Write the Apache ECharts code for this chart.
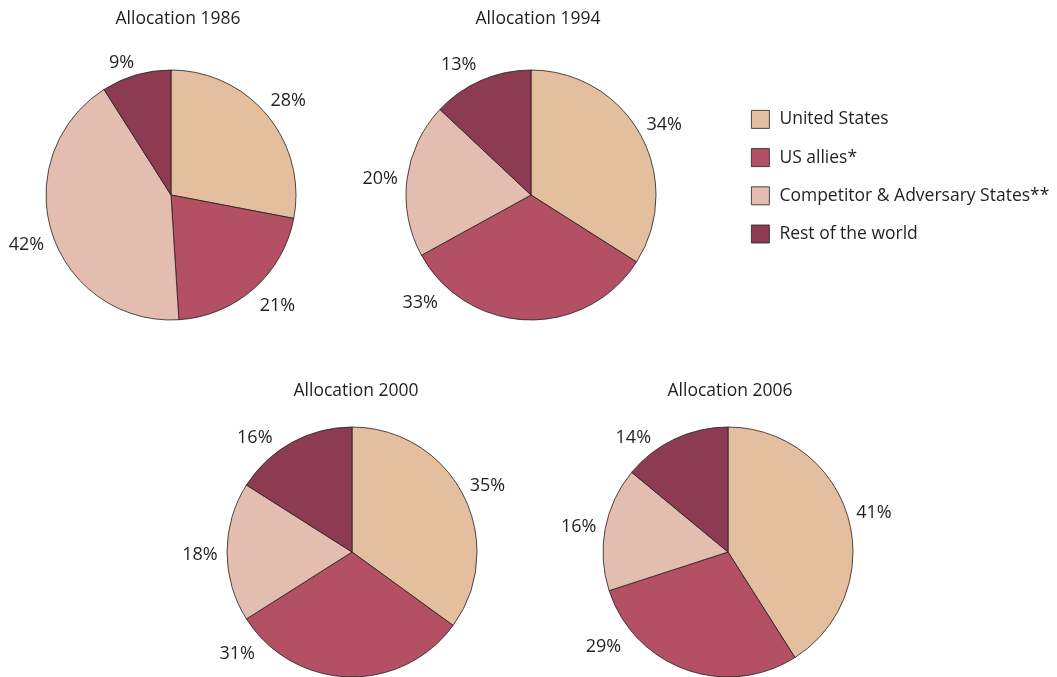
<!DOCTYPE html>
<html>
<head>
<meta charset="utf-8">
<script src="https://cdn.jsdelivr.net/npm/echarts@6/dist/echarts.min.js"></script>
<style>
  html, body { margin: 0; padding: 0; background: #fff; }
  #main { width: 1057px; height: 677px; }
</style>
</head>
<body>
<div id="main"></div>
<script>
// data
var categories = ['United States', 'US allies*', 'Competitor & Adversary States**', 'Rest of the world'];
var years = ['1986', '1994', '2000', '2006'];
var share1986 = [28, 21, 42, 9];
var share1994 = [34, 33, 20, 13];
var share2000 = [35, 31, 18, 16];
var share2006 = [41, 29, 16, 14];

var shares = [share1986, share1994, share2000, share2006];
var colors = ['#e3be9f', '#b35063', '#e3bdb0', '#8c3b52'];
var textColor = '#231f20';
var font = '"Open Sans", "Liberation Sans", sans-serif';

// layout of the 4 pies
var centers = [[171, 195], [531, 195], [352, 552], [728, 552]];
var titlePos = [[178, 10], [538, 10], [356, 382], [730, 382]];
var R = 125;
// labels that were moved away from the slice middle in the original
var nudges = [
  { 1: [6, -6], 3: [-7, 11] },
  { 1: [-106, -47], 3: [-12, 6] },
  { 1: [-110, -53], 3: [-24, 16] },
  { 1: [-73, -51], 3: [-30, 20] }
];

var myChart = echarts.init(document.getElementById('main'));

var title = years.map(function (y, i) {
  return {
    text: 'Allocation ' + y,
    left: titlePos[i][0],
    top: titlePos[i][1],
    padding: 0,
    textAlign: 'center',
    textStyle: { fontFamily: font, fontSize: 17.5, fontWeight: 'normal', color: textColor }
  };
});

var series = [];
shares.forEach(function (vals, i) {
  // the pie itself
  series.push({
    type: 'pie',
    name: years[i],
    center: centers[i],
    radius: R,
    startAngle: 90,
    clockwise: true,
    silent: true,
    label: { show: false },
    labelLine: { show: false },
    itemStyle: { borderColor: textColor, borderWidth: 0.8 },
    data: vals.map(function (v, k) {
      return { name: categories[k], value: v, itemStyle: { color: colors[k] } };
    })
  });
});
shares.forEach(function (vals, i) {
  // invisible ring, only used to place the % labels round the pie
  series.push({
    type: 'pie',
    name: years[i] + ' labels',
    center: centers[i],
    radius: [R + 12, R + 36],
    startAngle: 90,
    clockwise: true,
    silent: true,
    z: 1,
    legendHoverLink: false,
    itemStyle: { color: 'rgba(0,0,0,0)', borderWidth: 0 },
    label: {
      show: true,
      position: 'inside',
      formatter: '{c}%',
      fontFamily: font,
      fontSize: 18,
      color: textColor,
      offset: [0, 3]
    },
    labelLine: { show: false },
    data: vals.map(function (v, k) {
      var d = { name: categories[k], value: v };
      var n = nudges[i][k];
      if (n) d.label = { offset: [n[0], n[1] + 3] };
      return d;
    })
  });
});

var option = {
  animation: false,
  title: title,
  color: colors,
  legend: {
    orient: 'vertical',
    left: 746,
    top: 105,
    itemWidth: 18,
    itemHeight: 18,
    itemGap: 19.4,
    icon: 'rect',
    selectedMode: false,
    data: categories,
    itemStyle: { borderColor: textColor, borderWidth: 0.8 },
    textStyle: { fontFamily: font, fontSize: 17.5, color: textColor, padding: [0, 0, 0, 5] }
  },
  series: series
};
myChart.setOption(option);
</script>
</body>
</html>
